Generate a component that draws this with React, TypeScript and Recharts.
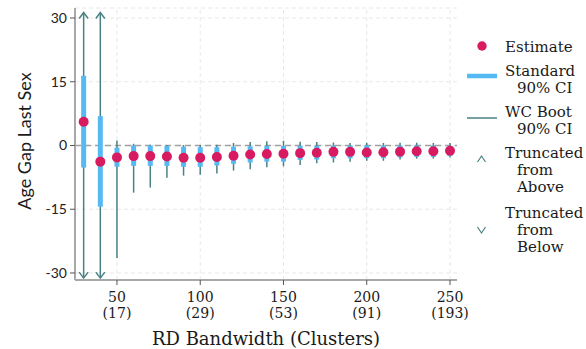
import React from 'react';
import { ComposedChart, Scatter, ErrorBar, XAxis, YAxis, CartesianGrid, ReferenceLine, Legend } from 'recharts';

// RD bandwidths and point estimates
const bandwidths = [30, 40, 50, 60, 70, 80, 90, 100, 110, 120, 130, 140, 150, 160, 170, 180, 190, 200, 210, 220, 230, 240, 250];
const estimates = [5.6, -3.8, -2.8, -2.5, -2.5, -2.6, -2.9, -2.9, -2.7, -2.4, -2.1, -2.0, -1.95, -1.8, -1.7, -1.5, -1.5, -1.65, -1.6, -1.45, -1.35, -1.35, -1.25];

// standard 90% CI
const stdLow = [-5.2, -14.4, -5.0, -4.8, -4.8, -4.8, -5.0, -5.0, -4.7, -4.3, -4.0, -3.8, -3.8, -3.4, -3.3, -3.0, -3.0, -3.0, -3.0, -2.8, -2.7, -2.7, -2.5];
const stdHigh = [16.4, 6.9, -0.5, 0, 0, -0.1, -0.3, -0.4, -0.4, -0.3, -0.2, -0.1, -0.1, -0.1, -0.1, 0, 0, 0, 0, 0, 0, 0, -0.1];

// wild cluster bootstrap 90% CI (null = truncated)
const bootLow = [null, null, -26.5, -11.1, -9.9, -7.6, -7.1, -6.9, -6.6, -5.9, -5.6, -5.1, -4.9, -4.6, -4.2, -4.0, -3.8, -3.6, -3.6, -3.3, -3.1, -3.1, -2.8];
const bootHigh = [null, null, 1.2, 0.4, 0.2, 0.1, 0.1, 0.1, 0.2, 0.6, 0.8, 1.0, 1.1, 0.9, 0.8, 0.7, 0.6, 0.65, 0.6, 0.65, 0.65, 0.6, 0.6];

const TRUNC_TOP = 31.3;
const TRUNC_BOTTOM = -31.2;

const xTicks = [50, 100, 150, 200, 250];
const xTickClusters = [17, 29, 53, 91, 193];
const yTicks = [-30, -15, 0, 15, 30];

const EST_COLOR = '#D81B60';
const STD_COLOR = '#55B9F3';
const BOOT_COLOR = '#4A8183';
const GRID_COLOR = '#e8e8e8';

const SERIF = '"DejaVu Serif", serif';
const SANS = 'Lato, sans-serif';

const rows = bandwidths.map((bw, i) => {
  const est = estimates[i];
  const lo = bootLow[i] ?? TRUNC_BOTTOM;
  const hi = bootHigh[i] ?? TRUNC_TOP;
  return {
    x: bw,
    y: est,
    stdErr: [est - stdLow[i], stdHigh[i] - est],
    bootErr: [est - lo, hi - est],
  };
});

const truncAbove = bandwidths.filter((_, i) => bootHigh[i] === null).map((bw) => ({ x: bw, y: TRUNC_TOP }));
const truncBelow = bandwidths.filter((_, i) => bootLow[i] === null).map((bw) => ({ x: bw, y: TRUNC_BOTTOM }));

const Chevron = (props: any) => {
  const { cx, cy, up } = props;
  const d = up ? 6 : -6;
  return (
    <polyline
      points={`${cx - 4.5},${cy + d} ${cx},${cy} ${cx + 4.5},${cy + d}`}
      fill="none"
      stroke={BOOT_COLOR}
      strokeWidth={1.5}
    />
  );
};

const Dot = (props: any) => <circle cx={props.cx} cy={props.cy} r={5} fill={EST_COLOR} />;

const XTick = (props: any) => {
  const { x, y, payload } = props;
  const idx = xTicks.indexOf(payload.value);
  return (
    <text x={x} textAnchor="middle" fontFamily={SERIF} fontSize={14} fill="#1a1a1a">
      <tspan x={x} y={y + 10} dominantBaseline="central">{payload.value}</tspan>
      <tspan x={x} y={y + 26} dominantBaseline="central">({xTickClusters[idx]})</tspan>
    </text>
  );
};

const LegendBox = () => {
  const textProps = { fontFamily: SERIF, fontSize: 15, fill: '#1a1a1a', dominantBaseline: 'central' as const };
  return (
    <svg width={124} height={230} style={{ display: 'block', overflow: 'visible' }}>
      <circle cx={20} cy={16} r={4.7} fill={EST_COLOR} />
      <text x={43} y={17} {...textProps}>Estimate</text>

      <line x1={5} x2={35} y1={46} y2={46} stroke={STD_COLOR} strokeWidth={4.5} />
      <text x={43} y={41} {...textProps}>Standard</text>
      <text x={55} y={58} {...textProps}>90% CI</text>

      <line x1={5} x2={35} y1={88} y2={88} stroke={BOOT_COLOR} strokeWidth={1.5} />
      <text x={43} y={82} {...textProps}>WC Boot</text>
      <text x={55} y={99} {...textProps}>90% CI</text>

      <polyline points="15.5,132 19.5,126 23.5,132" fill="none" stroke={BOOT_COLOR} strokeWidth={1.2} />
      <text x={43} y={123} {...textProps}>Truncated</text>
      <text x={55} y={140} {...textProps}>from</text>
      <text x={55} y={157} {...textProps}>Above</text>

      <polyline points="15.5,197 19.5,203 23.5,197" fill="none" stroke={BOOT_COLOR} strokeWidth={1.2} />
      <text x={43} y={183} {...textProps}>Truncated</text>
      <text x={55} y={200} {...textProps}>from</text>
      <text x={55} y={217} {...textProps}>Below</text>
    </svg>
  );
};

export default function App() {
  return (
    <div style={{ position: 'absolute', left: 0, top: 0, width: 586, height: 349, background: '#fff' }}>
      <ComposedChart width={586} height={349} margin={{ top: 8, right: 129, bottom: 0, left: 0 }}>
        <CartesianGrid stroke={GRID_COLOR} strokeDasharray="4 3" vertical={false} />
        {xTicks.map((t) => (
          <ReferenceLine key={t} x={t} stroke={GRID_COLOR} strokeDasharray="4 3" />
        ))}
        <XAxis
          type="number"
          dataKey="x"
          domain={[24.8, 254.2]}
          ticks={xTicks}
          allowDataOverflow
          height={69}
          axisLine={{ stroke: '#a8a8a8', strokeWidth: 2 }}
          tickLine={{ stroke: '#555' }}
          tickSize={5}
          tick={<XTick />}
          label={(p: any) => (
            <text
              x={p.viewBox.x + p.viewBox.width / 2}
              y={p.viewBox.y + 58}
              textAnchor="middle"
              dominantBaseline="central"
              fontFamily={SERIF}
              fontSize={18}
              fill="#1a1a1a"
            >
              RD Bandwidth (Clusters)
            </text>
          )}
        />
        <YAxis
          type="number"
          dataKey="y"
          domain={[-31.65, 32.35]}
          ticks={yTicks}
          allowDataOverflow
          width={75}
          axisLine={{ stroke: '#a8a8a8', strokeWidth: 2 }}
          tickLine={{ stroke: '#555' }}
          tickSize={5}
          tickMargin={3}
          tick={{ fontFamily: SANS, fontSize: 14, fill: '#222' }}
          label={(p: any) => {
            const cx = p.viewBox.x + 24;
            const cy = p.viewBox.y + p.viewBox.height / 2 - 3;
            return (
              <text
                x={cx}
                y={cy}
                transform={`rotate(-90, ${cx}, ${cy})`}
                textAnchor="middle"
                dominantBaseline="central"
                fontFamily={SANS}
                fontSize={18}
                fill="#1a1a1a"
              >
                Age Gap Last Sex
              </text>
            );
          }}
        />
        <ReferenceLine y={0} stroke="#a0a0a0" strokeWidth={1.5} strokeDasharray="6 4" />
        <Scatter data={rows} shape={<Dot />} isAnimationActive={false}>
          <ErrorBar dataKey="bootErr" direction="y" width={0} stroke={BOOT_COLOR} strokeWidth={1.5} isAnimationActive={false} />
          <ErrorBar dataKey="stdErr" direction="y" width={0} stroke={STD_COLOR} strokeWidth={5} isAnimationActive={false} />
        </Scatter>
        <Scatter data={truncAbove} shape={(p: any) => <Chevron {...p} up />} isAnimationActive={false} />
        <Scatter data={truncBelow} shape={(p: any) => <Chevron {...p} up={false} />} isAnimationActive={false} />
        <Legend
          layout="horizontal"
          verticalAlign="middle"
          content={<LegendBox />}
          wrapperStyle={{ left: 462, top: 30, width: 124, height: 230 }}
        />
      </ComposedChart>
    </div>
  );
}
